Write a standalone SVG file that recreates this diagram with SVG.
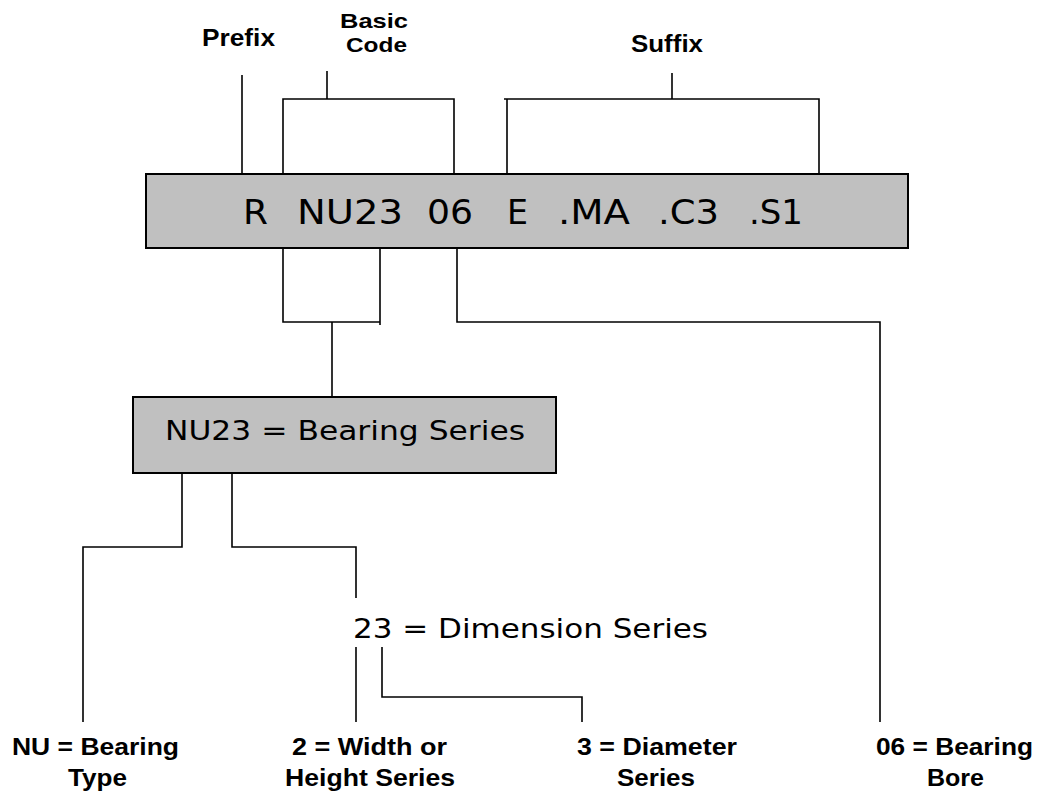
<svg xmlns="http://www.w3.org/2000/svg" width="1040" height="794" viewBox="0 0 1040 794">
<style>
.box{fill:#c0c0c0;stroke:#000;stroke-width:2}
.ln{fill:none;stroke:#000;stroke-width:1.6}
.lbl{font-family:"Liberation Sans",Arial,sans-serif;font-weight:bold;font-size:23px;fill:#000}
.sm{font-size:21px}
.code{font-family:"DejaVu Sans","Liberation Sans",sans-serif;font-size:34px;fill:#000}
.mid{font-family:"DejaVu Sans","Liberation Sans",sans-serif;font-size:26px;fill:#000}
</style>
<rect width="1040" height="794" fill="#fff"/>
<g id="connectors">
<path class="ln" d="M242 75V174"/>
<path class="ln" d="M283 174V99H454V174"/>
<path class="ln" d="M327 71V99"/>
<path class="ln" d="M507 174V99H819V174M504 99H507"/>
<path class="ln" d="M672 73V99"/>
<path class="ln" d="M283 248V322H380M380 248V325"/>
<path class="ln" d="M332 322V397"/>
<path class="ln" d="M457 248V322H880V722"/>
<path class="ln" d="M182 473V547H83V722"/>
<path class="ln" d="M232 473V547H356V598"/>
<path class="ln" d="M356 647V722"/>
<path class="ln" d="M382 647V697H582V722"/>
</g>
<g id="prefix"><text class="lbl" x="202" y="46" textLength="73" lengthAdjust="spacingAndGlyphs">Prefix</text></g>
<g id="basic-code"><text class="lbl sm" x="340" y="28" textLength="68" lengthAdjust="spacingAndGlyphs">Basic</text><text class="lbl sm" x="346" y="52" textLength="61" lengthAdjust="spacingAndGlyphs">Code</text></g>
<g id="suffix"><text class="lbl" x="631" y="52" textLength="72" lengthAdjust="spacingAndGlyphs">Suffix</text></g>
<g id="code-box">
<rect class="box" x="146" y="174" width="762" height="74"/>
<text class="code" y="224"><tspan x="243" textLength="25" lengthAdjust="spacingAndGlyphs">R</tspan><tspan x="297" textLength="106" lengthAdjust="spacingAndGlyphs">NU23</tspan><tspan x="427" textLength="46" lengthAdjust="spacingAndGlyphs">06</tspan><tspan x="507" textLength="21" lengthAdjust="spacingAndGlyphs">E</tspan><tspan x="558" textLength="72" lengthAdjust="spacingAndGlyphs">.MA</tspan><tspan x="658" textLength="61" lengthAdjust="spacingAndGlyphs">.C3</tspan><tspan x="749" textLength="54" lengthAdjust="spacingAndGlyphs">.S1</tspan></text>
</g>
<g id="series-box">
<rect class="box" x="133" y="397" width="423" height="76"/>
<text class="mid" x="165" y="440" textLength="360" lengthAdjust="spacingAndGlyphs">NU23 = Bearing Series</text>
</g>
<g id="dimension"><text class="mid" x="353" y="638" textLength="355" lengthAdjust="spacingAndGlyphs">23 = Dimension Series</text></g>
<g id="type"><text class="lbl" x="12" y="755" textLength="167" lengthAdjust="spacingAndGlyphs">NU = Bearing</text><text class="lbl" x="68" y="786" textLength="59" lengthAdjust="spacingAndGlyphs">Type</text></g>
<g id="width"><text class="lbl" x="292" y="755" textLength="155" lengthAdjust="spacingAndGlyphs">2 = Width or</text><text class="lbl" x="285" y="786" textLength="170" lengthAdjust="spacingAndGlyphs">Height Series</text></g>
<g id="diameter"><text class="lbl" x="577" y="755" textLength="160" lengthAdjust="spacingAndGlyphs">3 = Diameter</text><text class="lbl" x="617" y="786" textLength="78" lengthAdjust="spacingAndGlyphs">Series</text></g>
<g id="bore"><text class="lbl" x="876" y="755" textLength="157" lengthAdjust="spacingAndGlyphs">06 = Bearing</text><text class="lbl" x="927" y="786" textLength="57" lengthAdjust="spacingAndGlyphs">Bore</text></g>
</svg>
